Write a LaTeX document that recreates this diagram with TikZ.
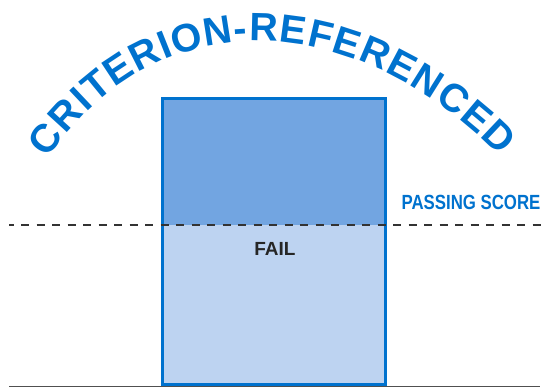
\documentclass[tikz,border=0pt]{standalone}
\usepackage{fontspec}
\usepackage{xcolor}
\setmainfont{Liberation Sans}
\newfontfamily\narrowsans[FakeStretch=0.82]{Liberation Sans}
\usetikzlibrary{decorations.text}

\begin{document}
\begin{tikzpicture}[x=1pt, y=-1pt,
    labeltext/.style={inner sep=0pt, font=\bfseries\fontsize{19}{21}\selectfont}]
    % Define colours
    \definecolor{critblue}{RGB}{0,114,206} % title and frame
    \definecolor{passblue}{RGB}{114,165,225} % above the score
    \definecolor{failblue}{RGB}{189,211,241} % below the score
    \definecolor{linegrey}{RGB}{80,80,80}
    % Define box edges
    \def\bl{162.5}
    \def\br{385.5}
    \def\bt{98.5}
    \def\bb{384.5}
    \def\ps{225}

    \useasboundingbox (0,0) rectangle (542,387);

    % 1. Score bar, upper and lower parts
    \fill[passblue] (\bl,\bt) rectangle (\br,\ps);
    \fill[failblue] (\bl,\ps) rectangle (\br,\bb);
    \draw[critblue, line width=3pt] (\bl,\bt) rectangle (\br,\bb);

    % 2. Passing score line and ground line
    \coordinate (pass west) at (9,\ps);
    \coordinate (pass east) at (542,\ps);
    \coordinate (axis west) at (9,386.5);
    \coordinate (axis east) at (540,386.5);
    \draw[black!80, line width=1.2pt, dash pattern=on 8pt off 7.5pt, dash phase=3.5pt]
        (pass west) -- (pass east);
    \draw[linegrey, line width=1.5pt] (axis west) -- (axis east);

    % 3. Labels
    \node[labeltext, text=critblue, font=\narrowsans\bfseries\fontsize{20.5}{22}\selectfont]
        (passing) at (471,202.5) {PASSING SCORE};
    \node[labeltext, text=black!85] (fail) at (275,249) {FAIL};

    % 4. Arched title
    \path[decorate, decoration={text along path, raise=-14pt,
        text align={fit to path},
        text={|\bfseries\fontsize{39.5}{44}\selectfont\color{critblue}|CRITERION-REFERENCED}}]
        (37,150) .. controls (150,-14) and (352,-12) .. (510,146);
\end{tikzpicture}
\end{document}
